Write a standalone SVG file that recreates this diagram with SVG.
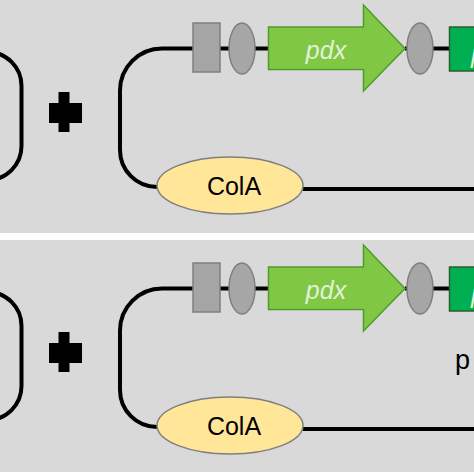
<svg xmlns="http://www.w3.org/2000/svg" width="474" height="474" viewBox="0 0 474 474">
<style>
.panel{fill:#d9d9d9}
.wire{fill:none;stroke:#000;stroke-width:4}
.prom{fill:#a5a5a5;stroke:#7f7f7f;stroke-width:1.5}
.rbs{fill:#a6a6a6;stroke:#7f7f7f;stroke-width:1.5}
.arrow{fill:#80c844;stroke:#4f9a2d;stroke-width:1.5}
.gene2{fill:#00b050;stroke:#2b5e2b;stroke-width:1.5}
.ori{fill:#ffe699;stroke:#7f7f7f;stroke-width:1.5}
.gl{font-family:"Liberation Sans",Arial,sans-serif;font-style:italic;font-size:25px;fill:#e2f0d9}
.lb{font-family:"Liberation Sans",Arial,sans-serif;font-size:25px;fill:#000}
.plus{fill:#000}
</style>
<rect x="0" y="0" width="474" height="474" fill="#ffffff"/>
<rect class="panel" x="0" y="0" width="474" height="233"/>
<rect class="panel" x="0" y="240" width="474" height="232"/>

<g id="panel-top">
  <g id="connectors-top">
    <rect class="wire" x="-120" y="52" width="141.5" height="128" rx="34"/>
    <path class="wire" d="M193,48.5 H162 A42,42 0 0 0 120,90.5 V150 A37,37 0 0 0 157,187"/>
    <path class="wire" d="M220,48.5 H229 M255,48.5 H268 M405,48.5 H407 M433,48.5 H449 M303,189 H474"/>
  </g>
  <g id="plus-top"><path class="plus" d="M58.5,92 H69.5 V103 H82 V123 H69.5 V132 H58.5 V123 H49 V103 H58.5 Z"/></g>
  <g id="promoter-top"><rect class="prom" x="193" y="23" width="27" height="49"/></g>
  <g id="rbs1-top"><ellipse class="rbs" cx="242" cy="48.5" rx="13" ry="25.5"/></g>
  <g id="pdx-top">
    <path class="arrow" d="M268.5,27 H363.5 V5 L405,48.5 L363.5,91 V69.5 H268.5 Z"/>
    <text class="gl" x="326" y="59" text-anchor="middle">pdx</text>
  </g>
  <g id="rbs2-top"><ellipse class="rbs" cx="420" cy="48.5" rx="13" ry="25.5"/></g>
  <g id="gene2-top">
    <rect class="gene2" x="449.5" y="27" width="40" height="44"/>
    <text class="gl" x="471" y="63">p</text>
  </g>
  <g id="cola-top">
    <ellipse class="ori" cx="230" cy="185.5" rx="73" ry="28.5"/>
    <text class="lb" x="234" y="195" text-anchor="middle">ColA</text>
  </g>
</g>

<g id="panel-bottom" transform="translate(0,240)">
  <g id="connectors-bottom">
    <rect class="wire" x="-120" y="52" width="141.5" height="128" rx="34"/>
    <path class="wire" d="M193,48.5 H162 A42,42 0 0 0 120,90.5 V150 A37,37 0 0 0 157,187"/>
    <path class="wire" d="M220,48.5 H229 M255,48.5 H268 M405,48.5 H407 M433,48.5 H449 M303,189 H474"/>
  </g>
  <g id="plus-bottom"><path class="plus" d="M58.5,92 H69.5 V103 H82 V123 H69.5 V132 H58.5 V123 H49 V103 H58.5 Z"/></g>
  <g id="promoter-bottom"><rect class="prom" x="193" y="23" width="27" height="49"/></g>
  <g id="rbs1-bottom"><ellipse class="rbs" cx="242" cy="48.5" rx="13" ry="25.5"/></g>
  <g id="pdx-bottom">
    <path class="arrow" d="M268.5,27 H363.5 V5 L405,48.5 L363.5,91 V69.5 H268.5 Z"/>
    <text class="gl" x="326" y="59" text-anchor="middle">pdx</text>
  </g>
  <g id="rbs2-bottom"><ellipse class="rbs" cx="420" cy="48.5" rx="13" ry="25.5"/></g>
  <g id="gene2-bottom">
    <rect class="gene2" x="449.5" y="27" width="40" height="44"/>
    <text class="gl" x="471" y="63">p</text>
  </g>
  <g id="cola-bottom">
    <ellipse class="ori" cx="230" cy="185.5" rx="73" ry="28.5"/>
    <text class="lb" x="234" y="195" text-anchor="middle">ColA</text>
  </g>
  <text class="lb" x="455" y="129" style="font-size:27px">p</text>
</g>
</svg>
